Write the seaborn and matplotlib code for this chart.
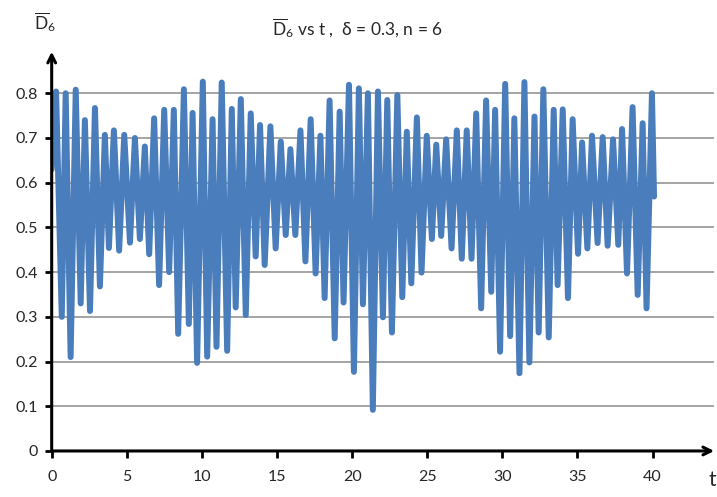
import matplotlib
matplotlib.use("Agg")
import matplotlib.pyplot as plt
import seaborn as sns
import pandas as pd

# turning points of the mean D_6 over time (delta = 0.3, n = 6)
t_vals = [0.00, 0.29, 0.67, 0.93, 1.26, 1.60, 1.93, 2.21, 2.55, 2.88,
          3.21, 3.54, 3.81, 4.14, 4.49, 4.83, 5.21, 5.54, 5.87, 6.20,
          6.49, 6.82, 7.15, 7.49, 7.82, 8.13, 8.42, 8.80, 9.13, 9.38,
          9.68, 10.06, 10.35, 10.71, 10.97, 11.32, 11.68, 11.99, 12.25, 12.59,
          12.92, 13.25, 13.58, 13.87, 14.18, 14.56, 14.91, 15.25, 15.58, 15.89,
          16.22, 16.56, 16.89, 17.24, 17.57, 17.89, 18.17, 18.50, 18.84, 19.17,
          19.43, 19.79, 20.12, 20.45, 20.72, 21.05, 21.38, 21.72, 22.05, 22.34,
          22.65, 23.01, 23.34, 23.64, 23.94, 24.31, 24.62, 24.97, 25.31, 25.60,
          25.93, 26.26, 26.62, 26.97, 27.30, 27.63, 27.95, 28.26, 28.59, 28.92,
          29.26, 29.52, 29.85, 30.19, 30.52, 30.80, 31.14, 31.47, 31.80, 32.14,
          32.42, 32.73, 33.09, 33.42, 33.68, 34.02, 34.37, 34.68, 35.04, 35.31,
          35.66, 35.97, 36.34, 36.68, 37.01, 37.37, 37.72, 37.97, 38.30, 38.67,
          39.01, 39.34, 39.60, 39.96, 40.10]
d_vals = [0.630, 0.804, 0.300, 0.800, 0.210, 0.808, 0.330, 0.740, 0.313, 0.767,
          0.368, 0.707, 0.454, 0.717, 0.448, 0.707, 0.466, 0.700, 0.474, 0.681,
          0.440, 0.744, 0.371, 0.763, 0.400, 0.763, 0.262, 0.809, 0.284, 0.756,
          0.197, 0.826, 0.211, 0.742, 0.233, 0.824, 0.224, 0.765, 0.321, 0.787,
          0.304, 0.755, 0.435, 0.729, 0.416, 0.726, 0.453, 0.692, 0.483, 0.675,
          0.483, 0.717, 0.424, 0.742, 0.397, 0.705, 0.342, 0.784, 0.252, 0.759,
          0.332, 0.819, 0.177, 0.811, 0.328, 0.800, 0.092, 0.804, 0.299, 0.785,
          0.265, 0.796, 0.344, 0.714, 0.375, 0.746, 0.399, 0.705, 0.474, 0.685,
          0.481, 0.697, 0.453, 0.717, 0.430, 0.717, 0.430, 0.755, 0.319, 0.784,
          0.356, 0.763, 0.222, 0.821, 0.257, 0.744, 0.174, 0.825, 0.198, 0.748,
          0.265, 0.809, 0.254, 0.763, 0.371, 0.764, 0.342, 0.742, 0.441, 0.690,
          0.453, 0.705, 0.465, 0.702, 0.459, 0.697, 0.461, 0.720, 0.397, 0.769,
          0.349, 0.733, 0.319, 0.800, 0.569]

x_ticks = [0, 5, 10, 15, 20, 25, 30, 35, 40]
y_ticks = [0, 0.1, 0.2, 0.3, 0.4, 0.5, 0.6, 0.7, 0.8]
y_tick_labels = ["0", "0.1", "0.2", "0.3", "0.4", "0.5", "0.6", "0.7", "0.8"]

sns.set_theme(style="white")
plt.rcParams["font.family"] = ["Lato", "DejaVu Sans"]
plt.rcParams["mathtext.fontset"] = "custom"
plt.rcParams["mathtext.rm"] = "Lato"
plt.rcParams["mathtext.it"] = "Lato"

df = pd.DataFrame({"t": t_vals, "D6": d_vals})

fig = plt.figure(figsize=(7.17, 4.97), dpi=100)
ax = fig.add_axes([0.0721, 0.0926, 0.9279 - 0.004, 0.896 - 0.0926])

# horizontal grid lines
for yv in y_ticks[1:]:
    ax.axhline(yv, color="#8c8c8c", lw=1.1, zorder=1)

sns.lineplot(data=df, x="t", y="D6", ax=ax, sort=False, estimator=None,
             color="#4a7dbb", lw=4.3, zorder=3)
for ln in ax.lines:
    ln.set_solid_joinstyle("round")
    ln.set_solid_capstyle("round")

ax.set_xlim(0, 44.1)
ax.set_ylim(0, 0.893)
ax.set_xticks(x_ticks)
ax.set_xticklabels([str(v) for v in x_ticks])
ax.set_yticks(y_ticks)
ax.set_yticklabels(y_tick_labels)
ax.set_xlabel("")
ax.set_ylabel("")
ax.grid(False)

for s in ax.spines.values():
    s.set_visible(False)

# axes drawn as arrows
ax.annotate("", xy=(0, 1.0), xytext=(0, 0), xycoords="axes fraction",
            arrowprops=dict(arrowstyle="->", lw=2.2, color="black",
                            mutation_scale=14, shrinkA=0, shrinkB=0))
ax.annotate("", xy=(1.0, 0), xytext=(0, 0), xycoords="axes fraction",
            arrowprops=dict(arrowstyle="->", lw=2.2, color="black",
                            mutation_scale=14, shrinkA=0, shrinkB=0))

ax.tick_params(axis="x", direction="out", length=5, width=2, color="black",
               pad=9, labelsize=11.5, bottom=True)
ax.tick_params(axis="y", direction="out", length=5, width=2, color="black",
               pad=5, labelsize=11.5, left=True)

fig.text(0.498, 0.944, r"$\overline{\mathrm{D}}_6$ vs t ,  δ = 0.3, n = 6",
         ha="center", va="center", fontsize=12.5)
fig.text(0.063, 0.955, r"$\overline{\mathrm{D}}_6$", ha="center", va="center",
         fontsize=12.5)
fig.text(0.993, 0.035, "t", ha="center", va="center", fontsize=15)

fig.savefig("out.png", dpi=100, facecolor="white")
